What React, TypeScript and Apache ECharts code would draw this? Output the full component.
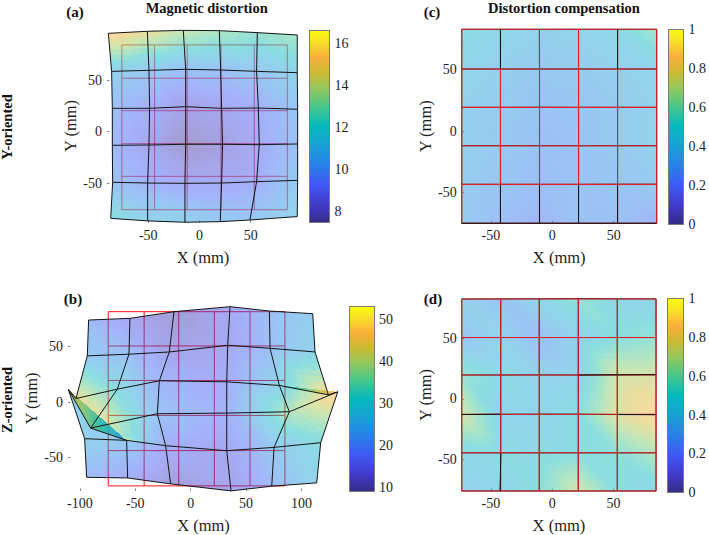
import React, { useEffect, useRef } from "react";
import * as echarts from "echarts";

const FONT = "Liberation Serif";
const TXT = "#1c1c1c";
const ALPHA = 0.47;

const cmapPos = [0, 0.1, 0.2, 0.3, 0.4, 0.5, 0.6, 0.7, 0.78, 0.86, 0.94, 1];
const cmapRgb = [
  [53, 42, 135], [66, 60, 205], [62, 90, 245], [40, 130, 232], [25, 160, 215], [5, 184, 190],
  [70, 198, 140], [150, 200, 90], [205, 185, 50], [250, 175, 60], [248, 225, 40], [249, 251, 14],
];

const ticksA = [-50, 0, 50];
const ticksBX = [-100, -50, 0, 50, 100];
const barTicksA = [8, 10, 12, 14, 16];
const barTicksB = [10, 20, 30, 40, 50];
const barTicksC = [0, 0.2, 0.4, 0.6, 0.8, 1];

const targetAX = [-75.8, -43.8, -12, 21, 53.5, 85.8];
const targetAY = [84, 51.7, 20.3, -11.6, -43.2, -75.5];
const targetBX = [-74.4, -42, -10.8, 21.3, 53.5, 85];
const targetBY = [81.2, 50.4, 19.4, -12, -43.6, -75.3];
const targetCX = [-73.8, -42.2, -10.4, 21.4, 53.2, 85.1];
const targetCY = [83, 50.6, 19.3, -12, -43.5, -75.3];
const targetDX = [-73.8, -42, -10.6, 21.2, 53, 84.6];
const targetDY = [82.2, 50.5, 19.7, -12.6, -44.3, -75.7];

const meshA = [
  [[-89, 95.2], [-50.9, 97.2], [-15.8, 98.1], [19.4, 97.8], [56.5, 95.9], [95.5, 93.6]],
  [[-85.8, 58.4], [-49.3, 59.4], [-13.5, 60.4], [20.7, 59.7], [55.8, 58.4], [95.5, 57.1]],
  [[-85.1, 22.6], [-48.7, 22.6], [-13.5, 24.2], [21.6, 22.6], [57.5, 22.9], [95.9, 21.7]],
  [[-85.1, -13.2], [-49.3, -12.9], [-13.5, -12.2], [22.6, -12.2], [58.4, -12.6], [95.9, -11.9]],
  [[-84.8, -49], [-50.6, -49.7], [-14.2, -50], [21.6, -49.7], [55.8, -48.4], [95.9, -47.1]],
  [[-86.7, -83.9], [-50.6, -86.4], [-14.2, -87.7], [20.3, -87.1], [49.3, -85.5], [95.5, -82.2]],
];
const valuesA = [
  [15.6, 14.7, 13.8, 13.2, 12.6, 13.0],
  [11.1, 10.5, 10.1, 10.1, 10.4, 11.3],
  [10.0, 9.2, 8.4, 8.7, 9.3, 10.3],
  [9.7, 8.7, 7.7, 8.2, 9.0, 10.1],
  [10.2, 9.4, 9.0, 9.0, 9.2, 10.6],
  [12.1, 11.2, 11.2, 10.6, 10.4, 11.3],
];

const meshB = [
  [[-92.1, 73.7], [-54.8, 75.2], [-15.1, 81.2], [35.5, 85.7], [71, 81.8], [110.1, 79.4]],
  [[-93.3, 41.5], [-55.7, 43], [-19.3, 45], [33.4, 51], [71.6, 48.3], [112.2, 45]],
  [[-103.5, 3.2], [-66.2, 11.6], [-28.3, 19.1], [32.5, 18.2], [80, 14.9], [124.2, 6.5]],
  [[-110.4, 11.3], [-90.3, -23.4], [-30.1, -10.5], [32.5, -9.9], [89, -8.7], [132.7, 9.2]],
  [[-95.7, -32.9], [-57.8, -34.4], [-22.6, -39.2], [32.5, -43.7], [75.2, -40.7], [117.3, -36.5]],
  [[-93.9, -67.6], [-56.9, -68.2], [-18.1, -73.5], [36.4, -79.8], [73.1, -75.6], [113.7, -72.6]],
];
const valuesB = [
  [20, 15, 11, 16, 21, 25],
  [24, 21, 14, 15, 21, 27],
  [44, 30, 19, 17, 27, 46],
  [40, 48, 22, 18, 37, 48],
  [27, 24, 17, 15, 24, 30],
  [20, 17, 12, 14, 20, 27],
];
const faceValuesB = [
  [3, 1, 0, 48, 22, 17],
  [3, 1, 1, 48, 17, 40],
  [3, 0, 1, 27, 24, 26],
];
const foldFaceB = [3, 0, 0, 45, 36, 23];

const meshC = [
  [[-73.8, 83], [-42.2, 83], [-10.5, 83], [21.4, 83], [53.2, 83], [85.1, 83]],
  [[-73.8, 50.6], [-42.2, 50.6], [-10.4, 50.6], [21.4, 50.6], [53.2, 50.6], [85.1, 50.6]],
  [[-73.8, 19.3], [-42.2, 19.3], [-10.4, 19.4], [21.4, 19.3], [53.2, 19.3], [85.1, 19.3]],
  [[-73.8, -12], [-42.2, -12], [-10.4, -12], [21.4, -12], [53.2, -12], [85.1, -12]],
  [[-73.8, -43.5], [-42.2, -43.5], [-10.4, -43.5], [21.4, -43.5], [53.2, -43.4], [85.1, -43.4]],
  [[-73.8, -75.3], [-42.2, -75.3], [-10.4, -75.3], [21.4, -75.3], [53.2, -75.3], [85.1, -75.3]],
];
const valuesC = [
  [0.48, 0.44, 0.39, 0.41, 0.45, 0.6],
  [0.42, 0.38, 0.34, 0.35, 0.38, 0.42],
  [0.38, 0.35, 0.3, 0.31, 0.35, 0.39],
  [0.38, 0.34, 0.29, 0.3, 0.34, 0.4],
  [0.36, 0.32, 0.27, 0.3, 0.32, 0.35],
  [0.35, 0.27, 0.23, 0.3, 0.28, 0.23],
];
const frontC = [[0, 1, 1, 1], [4, 1, 5, 1], [4, 2, 5, 2], [4, 3, 5, 3], [4, 4, 5, 4], [5, 0, 5, 5], [0, 4, 1, 4]];

const meshD = [
  [[-73.8, 82.2], [-42, 82.3], [-10.6, 82.4], [21.2, 82.5], [53, 82.4], [84.6, 82.3]],
  [[-73.8, 50.5], [-42, 50.5], [-10.6, 50.5], [21.2, 50.5], [53, 50.5], [84.6, 50.5]],
  [[-73.8, 19.7], [-42, 19.7], [-10.6, 19.8], [21.2, 19.7], [53, 19.9], [84.6, 20]],
  [[-73.8, -12.8], [-42, -12.6], [-10.6, -12.5], [21.2, -12.5], [53, -12.8], [84.6, -12.9]],
  [[-73.8, -44.3], [-42, -44.3], [-10.6, -44.3], [21.2, -44.3], [53, -44.3], [84.6, -44.3]],
  [[-73.8, -75.7], [-42.4, -75.7], [-10.6, -75.7], [21.2, -75.7], [53, -75.7], [84.6, -75.7]],
];
const valuesD = [
  [0.39, 0.31, 0.42, 0.55, 0.42, 0.39],
  [0.31, 0.4, 0.28, 0.4, 0.5, 0.55],
  [0.56, 0.48, 0.39, 0.41, 0.72, 0.72],
  [0.72, 0.42, 0.41, 0.49, 0.76, 0.86],
  [0.45, 0.47, 0.45, 0.5, 0.52, 0.64],
  [0.39, 0.41, 0.5, 0.72, 0.5, 0.44],
];
const frontD = [[2, 3, 2, 5], [3, 0, 3, 1], [3, 4, 3, 5], [4, 1, 5, 1]];

function cmap(t: number): number[] {
  const u = Math.max(0, Math.min(1, t));
  let i = 0;
  while (i < cmapPos.length - 2 && u > cmapPos[i + 1]) i++;
  const f = (u - cmapPos[i]) / (cmapPos[i + 1] - cmapPos[i]);
  return cmapRgb[i].map((v, k) => v + (cmapRgb[i + 1][k] - v) * f);
}
const css = (c: number[]) => `rgb(${Math.round(c[0])},${Math.round(c[1])},${Math.round(c[2])})`;

const SUB = 7;

function triangles(mesh: number[][][], vals: number[][], faces: number[][], fold: number[] | null) {
  const out: number[][] = [];
  const face = (r: number, c: number, t: number, v: number[]) => {
    const ids = t === 0
      ? [[r, c], [r, c + 1], [r + 1, c + 1]]
      : [[r, c], [r + 1, c + 1], [r + 1, c]];
    return ids.flatMap((id, n) => [mesh[id[0]][id[1]][0], mesh[id[0]][id[1]][1], v[n]]);
  };
  for (let r = 0; r < mesh.length - 1; r++) {
    for (let c = 0; c < mesh[r].length - 1; c++) {
      for (let t = 0; t < 2; t++) {
        if (fold && fold[0] === r && fold[1] === c && fold[2] === t) continue;
        const over = faces.find((f) => f[0] === r && f[1] === c && f[2] === t);
        const ids = t === 0
          ? [[r, c], [r, c + 1], [r + 1, c + 1]]
          : [[r, c], [r + 1, c + 1], [r + 1, c]];
        out.push(face(r, c, t, over ? over.slice(3) : ids.map((id) => vals[id[0]][id[1]])));
      }
    }
  }
  if (fold) {
    out.push(face(fold[0], fold[1], fold[2], fold.slice(3)));
    out.push(face(fold[0], fold[1], fold[2], fold.slice(3)));
  }
  return out;
}

function gouraud(lo: number, hi: number) {
  return (_: any, api: any) => {
    const A = [api.value(0), api.value(1), api.value(2)];
    const B = [api.value(3), api.value(4), api.value(5)];
    const C = [api.value(6), api.value(7), api.value(8)];
    const PA = api.coord([A[0], A[1]]);
    const PB = api.coord([B[0], B[1]]);
    const PC = api.coord([C[0], C[1]]);
    const at = (i: number, j: number) => {
      const a = (SUB - i - j) / SUB, b = i / SUB, c = j / SUB;
      return [a * PA[0] + b * PB[0] + c * PC[0], a * PA[1] + b * PB[1] + c * PC[1]];
    };
    const val = (i: number, j: number) => {
      const a = (SUB - i - j) / SUB, b = i / SUB, c = j / SUB;
      return a * A[2] + b * B[2] + c * C[2];
    };
    const children: any[] = [];
    const poly = (pts: number[][], v: number) =>
      children.push({
        type: "polygon",
        silent: true,
        shape: { points: pts },
        style: { fill: css(cmap((v - lo) / (hi - lo))), opacity: ALPHA },
      });
    for (let i = 0; i < SUB; i++) {
      for (let j = 0; j < SUB - i; j++) {
        poly([at(i, j), at(i + 1, j), at(i, j + 1)], (val(i, j) + val(i + 1, j) + val(i, j + 1)) / 3);
        if (i + j < SUB - 1) {
          poly([at(i + 1, j), at(i + 1, j + 1), at(i, j + 1)], (val(i + 1, j) + val(i + 1, j + 1) + val(i, j + 1)) / 3);
        }
      }
    }
    return { type: "group", children };
  };
}

function lineSeries(idx: number, lines: number[][][], color: string, width: number, z: number, opacity = 1) {
  return {
    type: "custom",
    xAxisIndex: idx,
    yAxisIndex: idx,
    z,
    silent: true,
    clip: false,
    data: lines.map((_, i) => [lines[i][0][0], lines[i][0][1], i]),
    renderItem: (params: any, api: any) => ({
      type: "polyline",
      silent: true,
      shape: { points: lines[params.dataIndex].map((p) => api.coord(p)) },
      style: { stroke: color, lineWidth: width, fill: "none", opacity },
    }),
  };
}

const meshLines = (m: number[][][]) => [
  ...m,
  ...m[0].map((_, c) => m.map((row) => row[c])),
];
const targetLines = (xs: number[], ys: number[]) => [
  ...xs.map((x) => [[x, ys[0]], [x, ys[ys.length - 1]]]),
  ...ys.map((y) => [[xs[0], y], [xs[xs.length - 1], y]]),
];

const panels = [
  { l: 107, t: 29, w: 192, h: 194, x: [-90.3, 97.2], y: [-88.4, 99.4], xt: ticksA, yt: ticksA, mesh: meshA, vals: valuesA, faces: [] as number[][], fold: null as number[] | null, tx: targetAX, ty: targetAY, range: [7.48, 16.62], redBelow: true, redOpacity: 0.72, front: [] as number[][], bar: [309.5, 30, 20, 192.7], bt: barTicksA },
  { l: 68, t: 306, w: 271, h: 185.5, x: [-110.7, 133.8], y: [-79.9, 86.3], xt: ticksBX, yt: ticksA, mesh: meshB, vals: valuesB, faces: faceValuesB, fold: foldFaceB, tx: targetBX, ty: targetBY, range: [8.95, 53], redBelow: true, redOpacity: 1, front: [] as number[][], bar: [349.5, 306.7, 24.5, 185], bt: barTicksB },
  { l: 461.7, t: 29.3, w: 195, h: 194, x: [-73.8, 85.1], y: [-75.3, 83], xt: ticksA, yt: ticksA, mesh: meshC, vals: valuesC, faces: [] as number[][], fold: null, tx: targetCX, ty: targetCY, range: [0, 1], redBelow: false, redOpacity: 0.92, front: frontC, bar: [668.3, 29.3, 19.7, 194.7], bt: barTicksC },
  { l: 461.7, t: 299, w: 194.5, h: 192.7, x: [-73.8, 84.7], y: [-75.7, 82.2], xt: ticksA, yt: ticksA, mesh: meshD, vals: valuesD, faces: [] as number[][], fold: null, tx: targetDX, ty: targetDY, range: [0, 1], redBelow: false, redOpacity: 0.92, front: frontD, bar: [667.7, 298.7, 20.3, 194], bt: barTicksC },
];

function buildOption() {
  const grid: any[] = [], xAxis: any[] = [], yAxis: any[] = [], series: any[] = [];
  const label = { color: TXT, fontFamily: FONT, fontSize: 14 };
  panels.forEach((p, i) => {
    grid.push({ left: p.l, top: p.t, width: p.w, height: p.h });
    xAxis.push({
      type: "value", gridIndex: i, min: p.x[0], max: p.x[1], position: "bottom",
      name: "X (mm)", nameLocation: "middle", nameGap: 26,
      nameTextStyle: { color: TXT, fontFamily: FONT, fontSize: 16.5, verticalAlign: "top" },
      axisLine: { show: false, onZero: false }, splitLine: { show: false },
      axisTick: { show: true, inside: true, length: 2.5, customValues: p.xt, lineStyle: { color: "#555", width: 0.7 } },
      axisLabel: { ...label, margin: 5, customValues: p.xt },
    });
    yAxis.push({
      type: "value", gridIndex: i, min: p.y[0], max: p.y[1], position: "left",
      name: "Y (mm)", nameLocation: "middle", nameGap: 26,
      nameTextStyle: { color: TXT, fontFamily: FONT, fontSize: 16.5, verticalAlign: "bottom" },
      axisLine: { show: false, onZero: false }, splitLine: { show: false },
      axisTick: { show: true, inside: true, length: 2.5, customValues: p.yt, lineStyle: { color: "#555", width: 0.7 } },
      axisLabel: { ...label, margin: 5, customValues: p.yt },
    });
    const tri = triangles(p.mesh, p.vals, p.faces, p.fold);
    const red = targetLines(p.tx, p.ty);
    const black = meshLines(p.mesh);
    const fill = { type: "custom", xAxisIndex: i, yAxisIndex: i, z: 3, silent: true, clip: false, data: tri, renderItem: gouraud(p.range[0], p.range[1]) };
    if (p.redBelow) {
      series.push(lineSeries(i, red, "#ff1010", 1, 2, p.redOpacity));
      series.push(fill);
      series.push(lineSeries(i, black, "#141414", 1, 4));
    } else {
      series.push(fill);
      series.push(lineSeries(i, black, "#141414", 1, 4));
      series.push(lineSeries(i, red, "#f51a20", 1.1, 5, p.redOpacity));
      series.push(lineSeries(i, p.front.map((e) => [p.mesh[e[0]][e[1]], p.mesh[e[2]][e[3]]]), "#141414", 1, 6));
    }
  });
  panels.forEach((p, k) => {
    const i = k + panels.length;
    grid.push({ left: p.bar[0], top: p.bar[1], width: p.bar[2], height: p.bar[3] });
    xAxis.push({ type: "value", gridIndex: i, min: 0, max: 1, show: false });
    yAxis.push({
      type: "value", gridIndex: i, min: p.range[0], max: p.range[1], position: "right",
      axisLine: { show: false, onZero: false }, splitLine: { show: false },
      axisTick: { show: true, inside: true, length: 2.5, customValues: p.bt, lineStyle: { color: "#444", width: 0.8 } },
      axisLabel: { ...label, margin: 5, customValues: p.bt, formatter: (v: number) => String(v) },
    });
    series.push({
      type: "custom", xAxisIndex: i, yAxisIndex: i, z: 1, silent: true, clip: false,
      data: [[0, p.range[0], 1, p.range[1]]],
      renderItem: (_: any, api: any) => {
        const a = api.coord([api.value(0), api.value(3)]);
        const b = api.coord([api.value(2), api.value(1)]);
        return {
          type: "rect",
          silent: true,
          shape: { x: a[0], y: a[1], width: b[0] - a[0], height: b[1] - a[1] },
          style: {
            stroke: "#7a7a7a",
            lineWidth: 1,
            fill: new echarts.graphic.LinearGradient(0, 1, 0, 0, cmapPos.map((offset, n) => ({ offset, color: css(cmapRgb[n]) }))),
          },
        };
      },
    });
  });
  const boldText = (text: string, x: number, y: number, fontSize: number, rotation = 0) => ({
    type: "text", x, y, rotation, silent: true,
    style: { text, fontFamily: FONT, fontSize, fontWeight: "bold", fill: "#111", align: "center", verticalAlign: "middle" },
  });
  return {
    animation: false,
    backgroundColor: "#fff",
    grid, xAxis, yAxis, series,
    graphic: [
      boldText("Magnetic distortion", 206.7, 7.5, 14.5),
      boldText("Distortion compensation", 564, 7.5, 14.5),
      boldText("(a)", 75, 12, 15),
      boldText("(b)", 73, 299, 15),
      boldText("(c)", 432, 12, 15),
      boldText("(d)", 433, 299, 15),
      boldText("Y-oriented", 6.5, 127, 14.5, Math.PI / 2),
      boldText("Z-oriented", 6.5, 400, 14.5, Math.PI / 2),
    ],
  };
}

export default function App() {
  const ref = useRef<HTMLDivElement>(null);
  useEffect(() => {
    const chart = echarts.init(ref.current!, undefined, { renderer: "svg" });
    chart.setOption(buildOption());
    const paint = () => {
      ref.current?.querySelectorAll('path[fill]:not([fill="none"])').forEach((el) => {
        el.setAttribute("shape-rendering", "crispEdges");
      });
    };
    paint();
    chart.on("finished", paint);
    return () => chart.dispose();
  }, []);
  return <div ref={ref} style={{ position: "fixed", left: 0, top: 0, width: 709, height: 535 }} />;
}
